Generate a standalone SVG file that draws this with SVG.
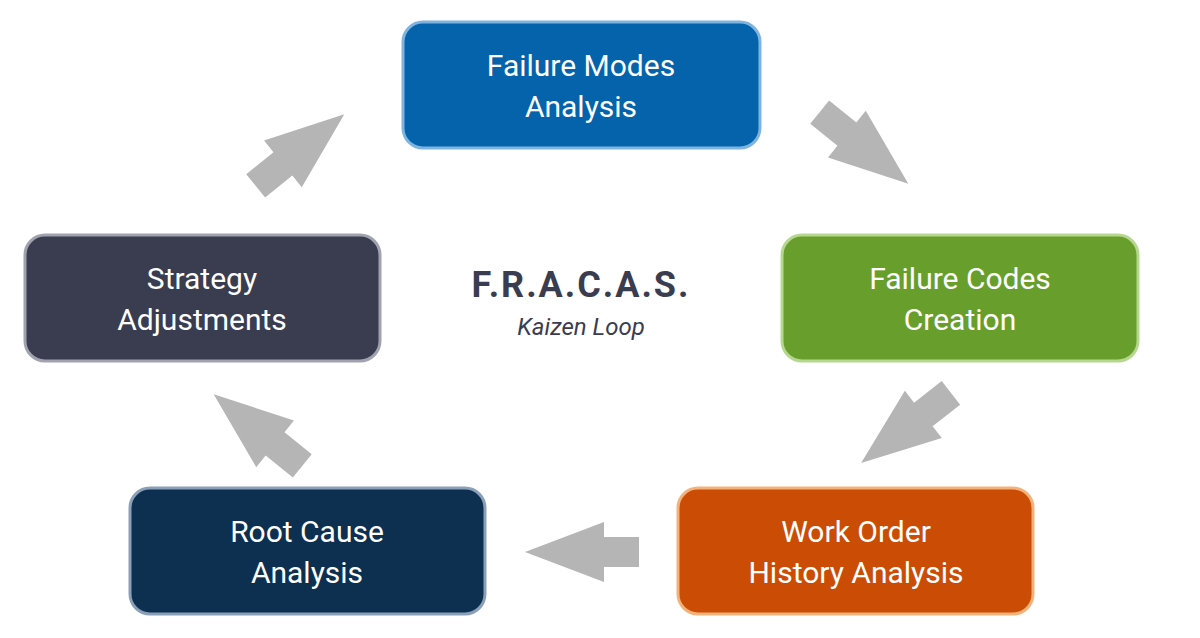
<svg xmlns="http://www.w3.org/2000/svg" width="1200" height="638" viewBox="0 0 1200 638">
<style>
.box{stroke-width:3;}
.t{font-family:Roboto,"Liberation Sans",sans-serif;font-size:30px;fill:#fff;text-anchor:middle;}
.arr{fill:#b5b5b5;}
</style>
<defs>
<path id="a" d="M-57,-15 L-22,-15 L-22,-30 L57,0 L-22,30 L-22,15 L-57,15 Z"/>
</defs>
<rect width="1200" height="638" fill="#fff"/>
<g id="connectors" class="arr">
<use href="#a" transform="translate(864,148) rotate(39)"/>
<use href="#a" transform="translate(906,428) rotate(142)"/>
<use href="#a" transform="translate(582,552) rotate(180) scale(1,1)"/>
<use href="#a" transform="translate(258,430) rotate(-141)"/>
<use href="#a" transform="translate(300,150) rotate(-39)"/>
</g>
<g id="n1"><rect class="box" x="403" y="22" width="357" height="126" rx="20" fill="#0563ac" stroke="#7fb4e0"/>
<text class="t" x="581" y="76">Failure Modes</text><text class="t" x="581" y="117">Analysis</text></g>
<g id="n2"><rect class="box" x="782" y="235" width="356" height="126" rx="20" fill="#689f2c" stroke="#b6d78f"/>
<text class="t" x="960" y="289">Failure Codes</text><text class="t" x="960" y="330">Creation</text></g>
<g id="n3"><rect class="box" x="678" y="488" width="355" height="126" rx="20" fill="#cb4d05" stroke="#f3b27a"/>
<text class="t" x="856" y="542">Work Order</text><text class="t" x="856" y="583">History Analysis</text></g>
<g id="n4"><rect class="box" x="130" y="488" width="355" height="126" rx="20" fill="#0d3050" stroke="#8aa0b8"/>
<text class="t" x="307" y="542">Root Cause</text><text class="t" x="307" y="583">Analysis</text></g>
<g id="n5"><rect class="box" x="25" y="235" width="355" height="126" rx="20" fill="#3a3c4f" stroke="#a0a2b0"/>
<text class="t" x="202" y="289">Strategy</text><text class="t" x="202" y="330">Adjustments</text></g>
<g id="title">
<text x="581" y="297" font-family="Roboto,'Liberation Sans',sans-serif" font-size="36" font-weight="bold" fill="#3a3c4f" text-anchor="middle" letter-spacing="2">F.R.A.C.A.S.</text>
<text x="581" y="335" font-family="Roboto,'Liberation Sans',sans-serif" font-size="24" font-style="italic" fill="#3a3c4f" text-anchor="middle">Kaizen Loop</text>
</g>
</svg>
